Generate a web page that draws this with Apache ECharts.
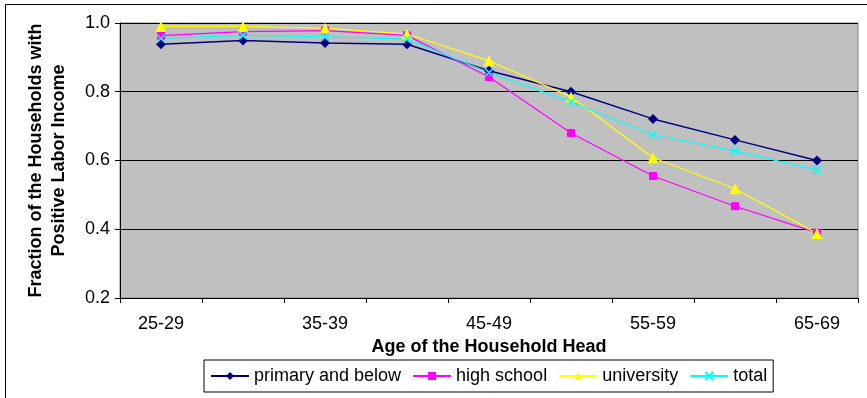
<!DOCTYPE html>
<html>
<head>
<meta charset="utf-8">
<script src="https://cdn.jsdelivr.net/npm/echarts@6/dist/echarts.min.js"></script>
<style>
html,body{margin:0;padding:0;background:#fff;}
#chart{width:867px;height:398px;}
</style>
</head>
<body>
<div id="chart"></div>
<script>
const categories = ['25-29','30-34','35-39','40-44','45-49','50-54','55-59','60-64','65-69'];
const primaryAndBelow = [0.938,0.949,0.942,0.938,0.861,0.800,0.721,0.660,0.600];
const highSchool      = [0.963,0.975,0.978,0.964,0.843,0.680,0.555,0.467,0.390];
const university      = [0.990,0.990,0.985,0.968,0.890,0.785,0.608,0.518,0.388];
const total           = [0.955,0.964,0.960,0.953,0.856,0.770,0.675,0.628,0.572];
const yTicks = [0.2,0.4,0.6,0.8,1.0];

const font = 'Liberation Sans, Arial, sans-serif';
const chart = echarts.init(document.getElementById('chart'));
const xMark = 'path://M0,0L10,10M10,0L0,10';

chart.setOption({
  animation: false,
  backgroundColor: '#fff',
  textStyle: {fontFamily: font, color: '#000'},
  graphic: [{
    type: 'rect', z: -1,
    shape: {x: 5.5, y: 4.5, width: 1000, height: 1000},
    style: {fill: 'none', stroke: '#000', lineWidth: 1}
  }],
  grid: {
    left: 120, top: 23, right: 9, bottom: 100,
    show: true, backgroundColor: '#c0c0c0', borderColor: '#808080', borderWidth: 1
  },
  legend: {
    left: 204, top: 360,
    padding: [7, 6, 7, 6],
    itemGap: 11,
    itemWidth: 38, itemHeight: 10,
    borderColor: '#000', borderWidth: 1,
    backgroundColor: '#fff',
    textStyle: {fontFamily: font, fontSize: 18, color: '#000'},
    data: ['primary and below','high school','university','total']
  },
  xAxis: {
    type: 'category',
    data: categories,
    boundaryGap: true,
    axisLine: {lineStyle: {color: '#000', width: 1}},
    axisTick: {show: true, length: 5, interval: 0, lineStyle: {color: '#000'}},
    axisLabel: {interval: 1, color: '#000', fontSize: 18, fontFamily: font, margin: 17},
    name: 'Age of the Household Head',
    nameLocation: 'middle',
    nameGap: 35,
    nameTextStyle: {fontWeight: 'bold', fontSize: 18, fontFamily: font, color: '#000'}
  },
  yAxis: {
    type: 'value',
    min: yTicks[0], max: yTicks[yTicks.length-1], interval: 0.2,
    axisLine: {show: true, lineStyle: {color: '#000', width: 1}},
    axisTick: {show: true, length: 5, lineStyle: {color: '#000'}},
    axisLabel: {color: '#000', fontSize: 18, fontFamily: font, margin: 10, formatter: v => v.toFixed(1)},
    splitLine: {show: true, lineStyle: {color: '#000', width: 1}},
    name: 'Fraction of the Households with\nPositive Labor Income',
    nameLocation: 'middle',
    nameRotate: 90,
    nameGap: 49,
    nameTextStyle: {fontWeight: 'bold', fontSize: 18, fontFamily: font, color: '#000', lineHeight: 23}
  },
  series: [
    {name: 'primary and below', type: 'line', data: primaryAndBelow,
     symbol: 'diamond', symbolSize: 10, showAllSymbol: true,
     lineStyle: {color: '#000080', width: 1.5}, itemStyle: {color: '#000080'}},
    {name: 'high school', type: 'line', data: highSchool,
     symbol: 'rect', symbolSize: 8, showAllSymbol: true,
     lineStyle: {color: '#ff00ff', width: 1.2}, itemStyle: {color: '#ff00ff'}},
    {name: 'university', type: 'line', data: university,
     symbol: 'triangle', symbolSize: 11, showAllSymbol: true,
     lineStyle: {color: '#ffff00', width: 1.2}, itemStyle: {color: '#ffff00'}},
    {name: 'total', type: 'line', data: total,
     symbol: xMark, symbolSize: 8, showAllSymbol: true,
     lineStyle: {color: '#00ffff', width: 1.2},
     itemStyle: {color: 'rgba(0,0,0,0)', borderColor: '#00ffff', borderWidth: 1.5}}
  ]
});
</script>
</body>
</html>
